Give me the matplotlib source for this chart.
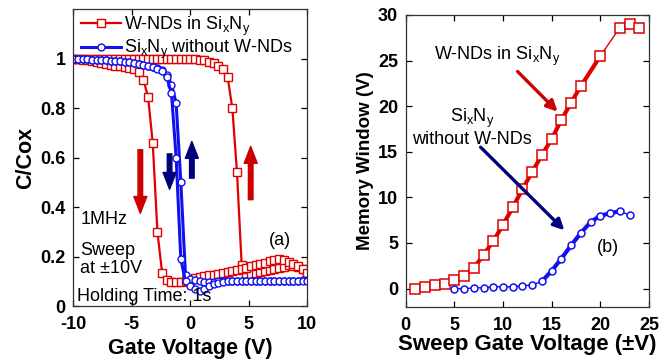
import numpy as np
import matplotlib.pyplot as plt

plt.rcParams['font.family'] = ['Liberation Sans', 'DejaVu Sans']
plt.rcParams['mathtext.default'] = 'regular'
plt.rcParams['axes.unicode_minus'] = False

# === (a) C-V hysteresis, sweep at +-10 V ===
vg = [-10.0, -9.6, -9.2, -8.8, -8.4, -8.0, -7.6, -7.2, -6.8, -6.4,
      -6.0, -5.6, -5.2, -4.8, -4.4, -4.0, -3.6, -3.2, -2.8, -2.4,
      -2.0, -1.6, -1.2, -0.8, -0.4, 0.0, 0.4, 0.8, 1.2, 1.6,
      2.0, 2.4, 2.8, 3.2, 3.6, 4.0, 4.4, 4.8, 5.2, 5.6,
      6.0, 6.4, 6.8, 7.2, 7.6, 8.0, 8.4, 8.8, 9.2, 9.6, 10.0]

# W-NDs, branch with transition near -3 V
c_wnd_fwd = [1.000, 0.998, 0.996, 0.993, 0.990, 0.987, 0.983, 0.979, 0.975, 0.972,
             0.969, 0.966, 0.962, 0.957, 0.946, 0.915, 0.845, 0.660, 0.300, 0.135,
             0.105, 0.098, 0.097, 0.098, 0.100, 0.107, 0.112, 0.117, 0.121, 0.124,
             0.127, 0.131, 0.135, 0.139, 0.143, 0.147, 0.151, 0.156, 0.161, 0.166,
             0.171, 0.176, 0.182, 0.188, 0.192, 0.186, 0.180, 0.171, 0.162, 0.150, 0.135]
# W-NDs, branch with transition near +4 V
c_wnd_rev = [1.000, 1.000, 1.000, 1.000, 1.000, 1.000, 1.000, 1.000, 1.000, 1.000,
             1.000, 1.000, 1.000, 1.000, 1.000, 1.000, 1.000, 1.000, 1.000, 1.000,
             1.000, 1.000, 1.000, 1.000, 1.000, 1.000, 0.998, 0.996, 0.993, 0.988,
             0.982, 0.972, 0.958, 0.925, 0.800, 0.540, 0.165, 0.128, 0.130, 0.134,
             0.138, 0.142, 0.146, 0.150, 0.155, 0.160, 0.165, 0.163, 0.158, 0.150, 0.140]
# Si_xN_y without W-NDs
c_ref_fwd = [1.000, 0.999, 0.998, 0.997, 0.996, 0.995, 0.994, 0.993, 0.992, 0.991,
             0.990, 0.988, 0.986, 0.983, 0.979, 0.975, 0.971, 0.967, 0.960, 0.950,
             0.925, 0.860, 0.600, 0.190, 0.100, 0.080, 0.068, 0.062, 0.070, 0.082,
             0.090, 0.095, 0.098, 0.100, 0.100, 0.100, 0.100, 0.100, 0.100, 0.100,
             0.100, 0.100, 0.100, 0.100, 0.100, 0.100, 0.100, 0.101, 0.102, 0.103, 0.103]
c_ref_rev = [1.000, 0.999, 0.998, 0.997, 0.996, 0.995, 0.994, 0.993, 0.992, 0.991,
             0.990, 0.988, 0.986, 0.983, 0.979, 0.976, 0.972, 0.968, 0.962, 0.953,
             0.935, 0.895, 0.820, 0.500, 0.125, 0.110, 0.105, 0.100, 0.098, 0.098,
             0.099, 0.100, 0.100, 0.100, 0.100, 0.100, 0.100, 0.100, 0.100, 0.100,
             0.100, 0.100, 0.100, 0.100, 0.100, 0.100, 0.101, 0.102, 0.103, 0.104, 0.105]

# === (b) memory window vs sweep voltage ===
sweep_wnd = [1, 2, 3, 4, 5, 6, 7, 8, 9, 10, 11, 12, 13, 14, 15, 16, 17, 18, 20, 22, 23, 24]
mw_wnd = [0.0, 0.2, 0.35, 0.55, 0.9, 1.4, 2.25, 3.7, 5.2, 7.0, 8.9, 10.9,
          12.8, 14.65, 16.4, 18.5, 20.4, 22.2, 25.5, 28.6, 29.0, 28.6]
sweep_ref = [5, 6, 7, 8, 9, 10, 11, 12, 13, 14, 15, 16, 17, 18, 19, 20, 21, 22, 23]
mw_ref = [0.0, 0.0, 0.07, 0.1, 0.2, 0.2, 0.2, 0.3, 0.4, 0.8, 1.95, 3.3,
          4.75, 6.1, 7.3, 8.0, 8.25, 8.5, 8.05]

yticks_a = [0, 0.2, 0.4, 0.6, 0.8, 1]
ytick_labels_a = ["0", "0.2", "0.4", "0.6", "0.8", "1"]

RED = "#e00000"
BLUE = "#1010f0"
DRED = "#cc0000"
NAVY = "#00007a"

fig = plt.figure(figsize=(6.65, 3.64), dpi=100)
ax1 = fig.add_axes([0.110, 0.159, 0.352, 0.816])
ax2 = fig.add_axes([0.610, 0.157, 0.366, 0.802])

# --- панель (a) ---
ax1.plot(vg, c_wnd_rev, color=RED, lw=1.6, marker="s", ms=5.5, mfc="white",
         mec=RED, mew=1.0)
ax1.plot(vg, c_wnd_fwd, color=RED, lw=1.6, marker="s", ms=5.5, mfc="white",
         mec=RED, mew=1.0, label="W-NDs in Si$_x$N$_y$")
ax1.plot(vg, c_ref_rev, color=BLUE, lw=2.2, marker="o", ms=5, mfc="white",
         mec=BLUE, mew=1.0)
ax1.plot(vg, c_ref_fwd, color=BLUE, lw=2.2, marker="o", ms=5, mfc="white",
         mec=BLUE, mew=1.0, label="Si$_x$N$_y$ without W-NDs")

arr = "simple,head_width=0.85,head_length=1.1,tail_width=0.3"
ms_arr = 11
ax1.annotate("", xy=(-4.26, 0.375), xytext=(-4.26, 0.632),
             arrowprops=dict(arrowstyle=arr, color=DRED, mutation_scale=ms_arr, shrinkA=0, shrinkB=0))
ax1.annotate("", xy=(-1.76, 0.472), xytext=(-1.76, 0.615),
             arrowprops=dict(arrowstyle=arr, color=NAVY, mutation_scale=ms_arr, shrinkA=0, shrinkB=0))
ax1.annotate("", xy=(0.14, 0.665), xytext=(0.14, 0.517),
             arrowprops=dict(arrowstyle=arr, color=NAVY, mutation_scale=ms_arr, shrinkA=0, shrinkB=0))
ax1.annotate("", xy=(5.17, 0.645), xytext=(5.17, 0.43),
             arrowprops=dict(arrowstyle=arr, color=DRED, mutation_scale=ms_arr, shrinkA=0, shrinkB=0))

ax1.text(-9.4, 0.348, "1MHz", fontsize=13, va="center", ha="left")
ax1.text(-9.4, 0.187, "Sweep\nat \u00b110V", fontsize=13, va="center", ha="left",
         linespacing=1.1)
ax1.text(-9.65, 0.037, "Holding Time: 1s", fontsize=13, va="center", ha="left")
ax1.text(7.7, 0.267, "(a)", fontsize=13, va="center", ha="center")

ax1.legend(loc="upper left", bbox_to_anchor=(0.03, 0.985), frameon=False, fontsize=13,
           borderaxespad=0, borderpad=0.05, handlelength=2.2, handletextpad=0.15,
           labelspacing=0.0)

ax1.set_xlim(-10, 10)
ax1.set_ylim(0, 1.2)
ax1.set_xticks([-10, -5, 0, 5, 10])
ax1.set_yticks(yticks_a)
ax1.set_yticklabels(ytick_labels_a)
ax1.set_xlabel("Gate Voltage (V)", fontsize=15.5, fontweight="bold", labelpad=4)
ax1.set_ylabel("C/Cox", fontsize=15.5, fontweight="bold", labelpad=3)

# --- панель (b) ---
ax2.plot(sweep_wnd, mw_wnd, color=RED, lw=1.0, marker="s", ms=6.5, mfc="white",
         mec=RED, mew=1.1, zorder=3)
ax2.plot(sweep_wnd[5:19], mw_wnd[5:19], color=RED, lw=3.0, zorder=2)
ax2.plot(sweep_ref, mw_ref, color=BLUE, lw=1.0, marker="o", ms=5, mfc="white",
         mec=BLUE, mew=1.1, zorder=3)
ax2.plot(sweep_ref[9:18], mw_ref[9:18], color=BLUE, lw=3.0, zorder=2)

ax2.text(2.9, 25.5, "W-NDs in Si$_x$N$_y$", fontsize=13, va="center", ha="left")
ax2.annotate("", xy=(15.6, 19.4), xytext=(11.5, 23.8),
             arrowprops=dict(arrowstyle="-|>", color=DRED, lw=2.4, mutation_scale=16,
                             shrinkA=0, shrinkB=0))
ax2.text(6.8, 17.7, "Si$_x$N$_y$\nwithout W-NDs", fontsize=13, va="center", ha="center",
         linespacing=1.1)
ax2.annotate("", xy=(16.3, 6.4), xytext=(7.7, 15.5),
             arrowprops=dict(arrowstyle="-|>", color=NAVY, lw=2.4, mutation_scale=16,
                             shrinkA=0, shrinkB=0))
ax2.text(20.8, 4.5, "(b)", fontsize=13, va="center", ha="center")

ax2.set_xlim(0, 25)
ax2.set_ylim(-2, 30)
ax2.set_xticks([0, 5, 10, 15, 20, 25])
ax2.set_yticks([0, 5, 10, 15, 20, 25, 30])
ax2.set_xlabel("Sweep Gate Voltage (\u00b1V)", fontsize=16, fontweight="bold", labelpad=0)
ax2.set_ylabel("Memory Window (V)", fontsize=13.5, fontweight="bold", labelpad=3)

for ax in (ax1, ax2):
    ax.tick_params(direction="in", top=True, right=True, length=4, width=0.9,
                   labelsize=13)
    ax.tick_params(axis="x", pad=7)
    ax.tick_params(axis="y", pad=5.5)
    for lab in ax.get_xticklabels() + ax.get_yticklabels():
        lab.set_fontweight("bold")
    for sp in ax.spines.values():
        sp.set_linewidth(0.9)
        sp.set_color("#333333")

fig.savefig("out.png", dpi=100)
